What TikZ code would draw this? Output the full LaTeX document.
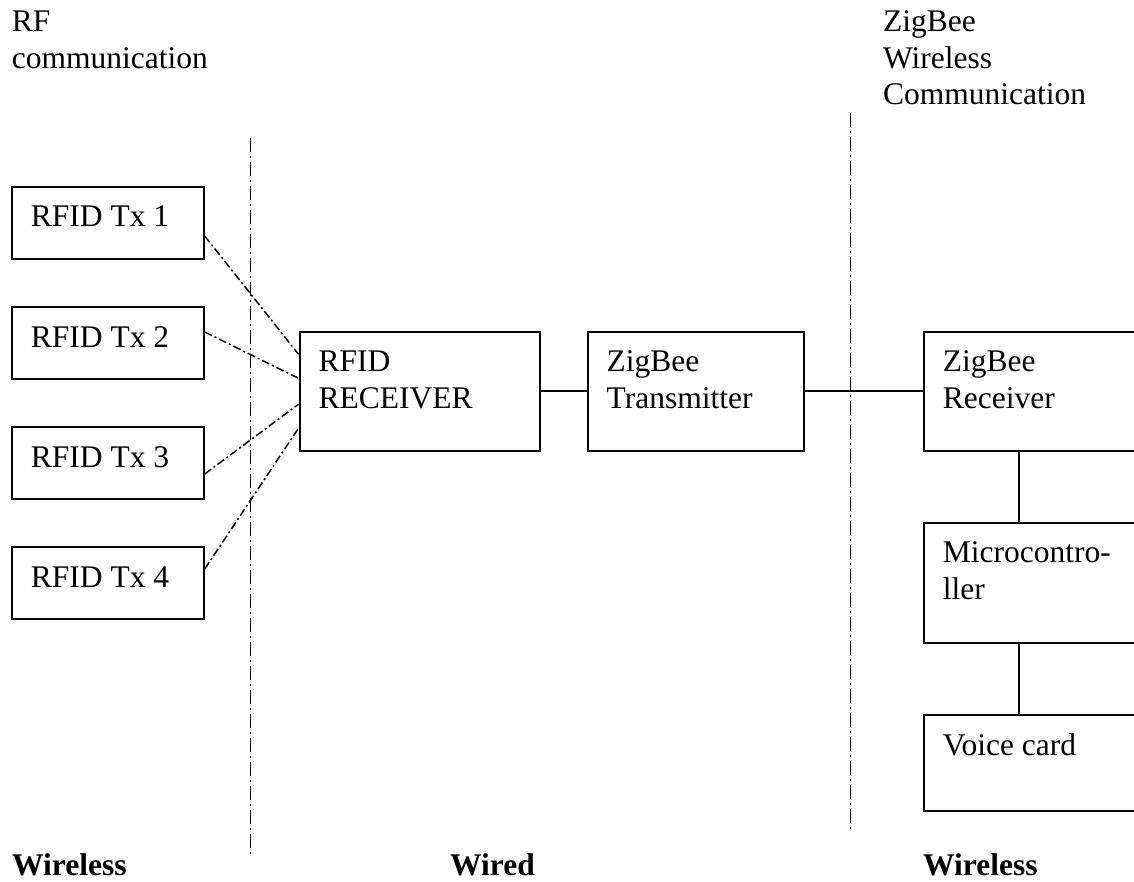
\documentclass[tikz,border=0pt]{standalone}
\usepackage{fontspec}
\setmainfont{Liberation Serif}
\newcommand\boxtext[1]{\parbox[t]{300pt}{\raggedright #1}}
\begin{document}
\begin{tikzpicture}[x=1pt,y=-1pt,
  box/.style={draw, line width=2pt, inner sep=0pt, anchor=north west},
  lbl/.style={anchor=base west, inner sep=0pt, font=\fontsize{31.5}{36.5}\selectfont},
  blbl/.style={lbl, font=\fontsize{31.5}{36.5}\selectfont\bfseries},
  wire/.style={line width=1.8pt},
  radio/.style={line width=1.5pt, dash pattern=on 8pt off 3pt on 2pt off 3pt},
  divider/.style={line width=1.5pt, dash pattern=on 14pt off 4pt on 2pt off 4pt}]
\useasboundingbox (0,0) rectangle (1134,882);

% boxes
\node[box, minimum width=192pt, minimum height=72pt] (tx1) at (10.7,186) {};
\node[box, minimum width=192pt, minimum height=72pt] (tx2) at (10.7,306) {};
\node[box, minimum width=192pt, minimum height=72pt] (tx3) at (10.7,426) {};
\node[box, minimum width=192pt, minimum height=72pt] (tx4) at (10.7,546) {};
\node[box, minimum width=240pt, minimum height=119.5pt] (rx) at (298.5,330.5) {};
\node[box, minimum width=216.5pt, minimum height=119.5pt] (ztx) at (586.5,330.5) {};
\node[box, minimum width=220pt, minimum height=119.5pt] (zrx) at (922.7,330.5) {};
\node[box, minimum width=220pt, minimum height=120.6pt] (mc) at (922.7,521.7) {};
\node[box, minimum width=220pt, minimum height=96pt] (vc) at (922.7,714) {};

% box texts
\node[lbl] (t1) at ([shift={(20,41)}]tx1.north west) {RFID Tx 1};
\node[lbl] (t2) at ([shift={(20,41)}]tx2.north west) {RFID Tx 2};
\node[lbl] (t3) at ([shift={(20,41)}]tx3.north west) {RFID Tx 3};
\node[lbl] (t4) at ([shift={(20,41)}]tx4.north west) {RFID Tx 4};
\node[lbl] (trx) at ([shift={(20,41)}]rx.north west) {\boxtext{RFID\\RECEIVER}};
\node[lbl] (tztx) at ([shift={(20,41)}]ztx.north west) {\boxtext{ZigBee\\Transmitter}};
\node[lbl] (tzrx) at ([shift={(20,41)}]zrx.north west) {\boxtext{ZigBee\\Receiver}};
\node[lbl] (tmc) at ([shift={(20,41)}]mc.north west) {\boxtext{Microcontro-\\ller}};
\node[lbl] (tvc) at ([shift={(20,41)}]vc.north west) {Voice card};

% free labels
\node[lbl] (rf) at (11.7,32) {\boxtext{RF\\communication}};
\node[lbl] (zw) at (883,32) {\boxtext{ZigBee\\Wireless\\Communication}};
\node[blbl] (w1) at (12,875) {Wireless};
\node[blbl] (w2) at (450,875) {Wired};
\node[blbl] (w3) at (923,875) {Wireless};

% dividers
\coordinate (d1top) at (250.7,138);
\coordinate (d1bot) at (250.7,855);
\coordinate (d2top) at (850.7,113);
\coordinate (d2bot) at (850.7,831);
\draw[divider] (d1top) -- (d1bot);
\draw[divider] (d2top) -- (d2bot);

% wired connectors
\draw[wire] (rx.east) -- (ztx.west);
\draw[wire] (ztx.east) -- (zrx.west);
\draw[wire] ([xshift=96pt]zrx.south west) -- ([xshift=96pt]mc.north west);
\draw[wire] ([xshift=96pt]mc.south west) -- ([xshift=96pt]vc.north west);

% radio links
\draw[radio] ([yshift=-13pt]tx1.east) -- ([yshift=37pt]rx.west);
\draw[radio] ([yshift=11pt]tx2.east) -- ([yshift=13pt]rx.west);
\draw[radio] ([yshift=-11pt]tx3.east) -- ([yshift=-13pt]rx.west);
\draw[radio] ([yshift=14pt]tx4.east) -- ([yshift=-37pt]rx.west);
\end{tikzpicture}
\end{document}
